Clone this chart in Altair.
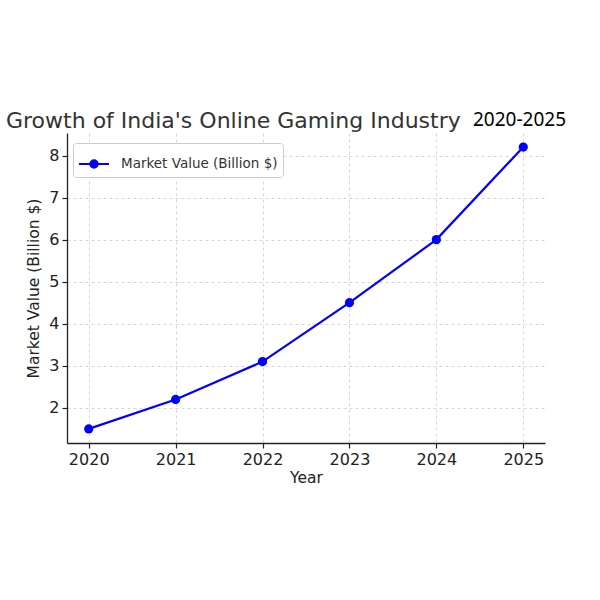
import altair as alt
import pandas as pd

years = [2020, 2021, 2022, 2023, 2024, 2025]
values = [1.5, 2.2, 3.1, 4.5, 6.0, 8.2]
series_name = "Market Value (Billion $)"
title_text = "Growth of India's Online Gaming Industry"
side_text = "2020-2025"
y_ticks = [2, 3, 4, 5, 6, 7, 8]

df = pd.DataFrame({"Year": years, "Value": values, "Series": [series_name] * len(years)})
side_df = pd.DataFrame({"t": [side_text]})

legend_path = "M-1,0H1M0.25,0A0.25,0.25,0,1,1,-0.25,0A0.25,0.25,0,1,1,0.25,0Z"

x = alt.X("Year:Q", scale=alt.Scale(domain=[2019.75, 2025.25], nice=False, zero=False),
          axis=alt.Axis(values=years, format="d", title="Year", titlePadding=3))
y = alt.Y("Value:Q", scale=alt.Scale(domain=[1.165, 8.535], nice=False, zero=False),
          axis=alt.Axis(values=y_ticks, title=series_name, titlePadding=7))
color = alt.Color(
    "Series:N",
    scale=alt.Scale(domain=[series_name], range=["#0000ff"]),
    legend=alt.Legend(
        title=None, orient="none", legendX=6, legendY=10,
        symbolType=legend_path, symbolSize=900, symbolStrokeWidth=2,
        symbolFillColor="#0000ff", symbolStrokeColor="#0000ff",
        labelFont="DejaVu Sans", labelFontSize=13.5, labelColor="#333333",
        labelOffset=11, padding=5, strokeColor="#cccccc", fillColor="white",
        cornerRadius=3,
    ),
)

line = alt.Chart(df).mark_line(strokeWidth=2.2).encode(x=x, y=y, color=color)
points = alt.Chart(df).mark_point(filled=True, size=85, opacity=1).encode(x=x, y=y, color=color)
side = alt.Chart(side_df).mark_text(
    font="Noto Sans", fontSize=19, color="black", align="center", baseline="alphabetic"
).encode(x=alt.value(452.5), y=alt.value(-7), text="t:N")

chart = alt.layer(line, points, side).properties(
    width=478, height=310,
    title=alt.TitleParams(
        text=title_text, anchor="start", frame="group", font="DejaVu Sans",
        fontSize=22, fontWeight="normal", color="#333333", dx=-61,
        baseline="alphabetic", offset=-39,
    ),
    padding={"left": 67, "top": 133, "right": 55, "bottom": 157},
    autosize="none",
).configure_view(stroke=None).configure_axis(
    domainColor="#222222", domainWidth=1.3, tickColor="#222222", tickWidth=1.2, tickSize=5,
    labelFont="DejaVu Sans", labelFontSize=16, labelColor="#222222", labelPadding=3,
    titleFont="DejaVu Sans", titleFontSize=15.5, titleFontWeight="normal", titleColor="#222222",
    gridColor="#cccccc", gridDash=[3, 3], gridWidth=0.8,
)

chart.save("out.html", embed_options={"renderer": "svg", "actions": False})
